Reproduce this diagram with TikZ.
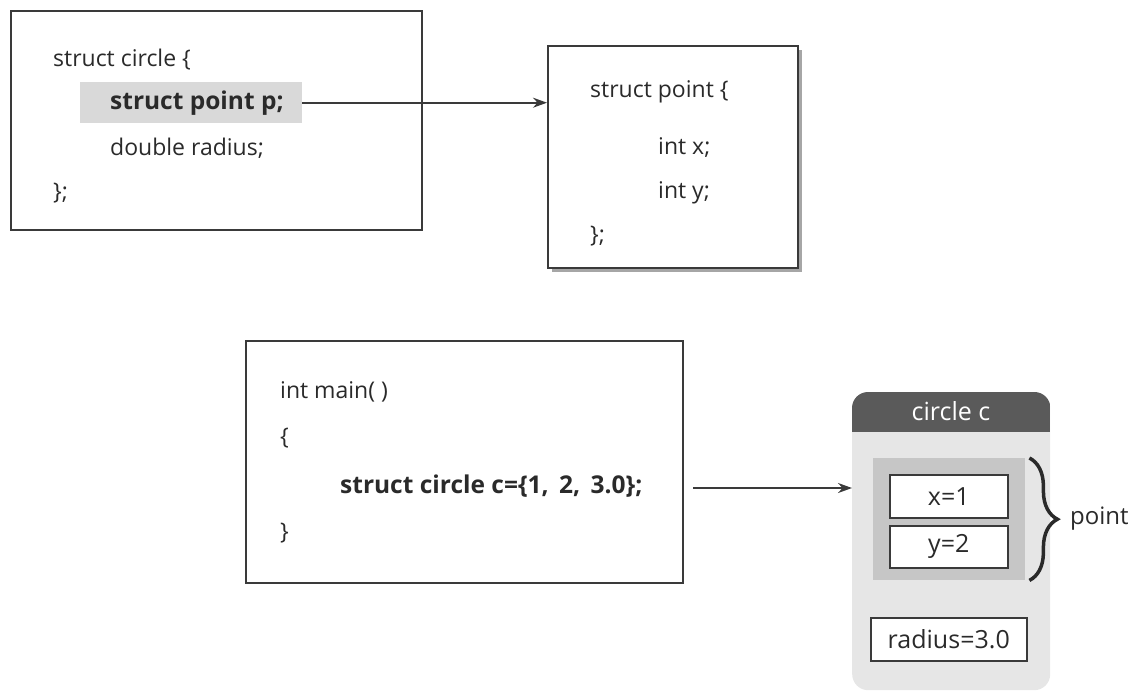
\documentclass[tikz,border=0pt]{standalone}
\usepackage{fontspec}
\setmainfont{Open Sans}
\usetikzlibrary{arrows.meta,shadows,decorations.pathreplacing}
\definecolor{ink}{HTML}{2A2A2A}
\definecolor{frame}{HTML}{3A3A3A}
\definecolor{hilite}{HTML}{D9D9D9}
\definecolor{panelbg}{HTML}{E6E6E6}
\definecolor{panelhd}{HTML}{5A5A5A}
\definecolor{innerbg}{HTML}{C6C6C6}
\tikzset{
  codebox/.style={draw=frame, line width=2pt, fill=white, inner sep=0pt, anchor=north west},
  txt/.style={text=ink, font=\fontsize{23}{27}\selectfont, anchor=west, inner sep=0pt},
  btxt/.style={txt, font=\fontsize{24.5}{28}\selectfont\bfseries},
  valbox/.style={draw=frame, line width=1.5pt, fill=white, inner sep=0pt, anchor=north west, text=ink, font=\fontsize{25}{29}\selectfont},
  conn/.style={draw=frame, line width=1.8pt, -{Stealth[length=14pt,width=10pt]}},
}
\begin{document}
\begin{tikzpicture}[x=1pt,y=-1pt]
\useasboundingbox (0,0) rectangle (1147,691);
% box 1
\node[codebox, minimum width=411pt, minimum height=219pt] (b1) at (10,10) {};
\node[anchor=north west, fill=hilite, inner sep=0pt, minimum width=222pt, minimum height=41pt] (hl) at (80,82) {};
\node[txt] (c1) at (53,60) {struct circle \{};
\node[btxt] (c2) at (110,103) {struct point p;};
\node[txt] (c3) at (110,148) {double radius;};
\node[txt] (c4) at (53,193) {\};};
% box 2
\node[codebox, minimum width=250pt, minimum height=222pt, drop shadow={shadow xshift=4pt, shadow yshift=-4pt, fill=black!35, opacity=1}] (b2) at (547,45) {};
\node[txt] (p1) at (590,92) {struct point \{};
\node[txt] (p2) at (658,148) {int x;};
\node[txt] (p3) at (658,193) {int y;};
\node[txt] (p4) at (590,236) {\};};
\draw[conn] (hl.east) -- (hl.east -| b2.west);
% box 3
\node[codebox, minimum width=437pt, minimum height=242pt] (b3) at (245,340) {};
\node[txt] (m1) at (280,392) {int main( )};
\node[txt] (m2) at (280,438) {\{};
\node[btxt] (m3) at (340,486) {struct circle c=\{1,\, 2,\, 3.0\};};
\node[txt] (m4) at (280,533) {\}};
% panel
\node[anchor=north west, fill=panelbg, rounded corners=16pt, minimum width=198pt, minimum height=298pt, inner sep=0pt] (pan) at (852,392) {};
\begin{scope}
\clip[rounded corners=16pt] (pan.south west) rectangle (pan.north east);
\fill[panelhd] (pan.north west) rectangle ([yshift=-40pt]pan.north east);
\end{scope}
\node[text=white, font=\fontsize{25}{29}\selectfont, inner sep=0pt] (hd) at (951,411) {circle c};
\node[anchor=north west, fill=innerbg, inner sep=0pt, minimum width=152pt, minimum height=122pt] (inn) at (873,458) {};
\node[valbox, minimum width=118pt, minimum height=43pt] (vx) at (889,474) {x=1};
\node[valbox, minimum width=118pt, minimum height=42pt] (vy) at (889,525) {y=2};
\node[valbox, minimum width=156pt, minimum height=43pt] (vr) at (870,617) {radius=3.0};
\draw[draw=ink, line width=3.5pt, decorate, decoration={brace, amplitude=28pt}] ([xshift=4pt]inn.north east) -- ([xshift=4pt]inn.south east);
\node[txt, font=\fontsize{24}{28}\selectfont] (pt) at (1070,519) {point};
\coordinate (src) at (693,488);
\draw[conn] (src) -- (src -| pan.west);
\end{tikzpicture}
\end{document}
